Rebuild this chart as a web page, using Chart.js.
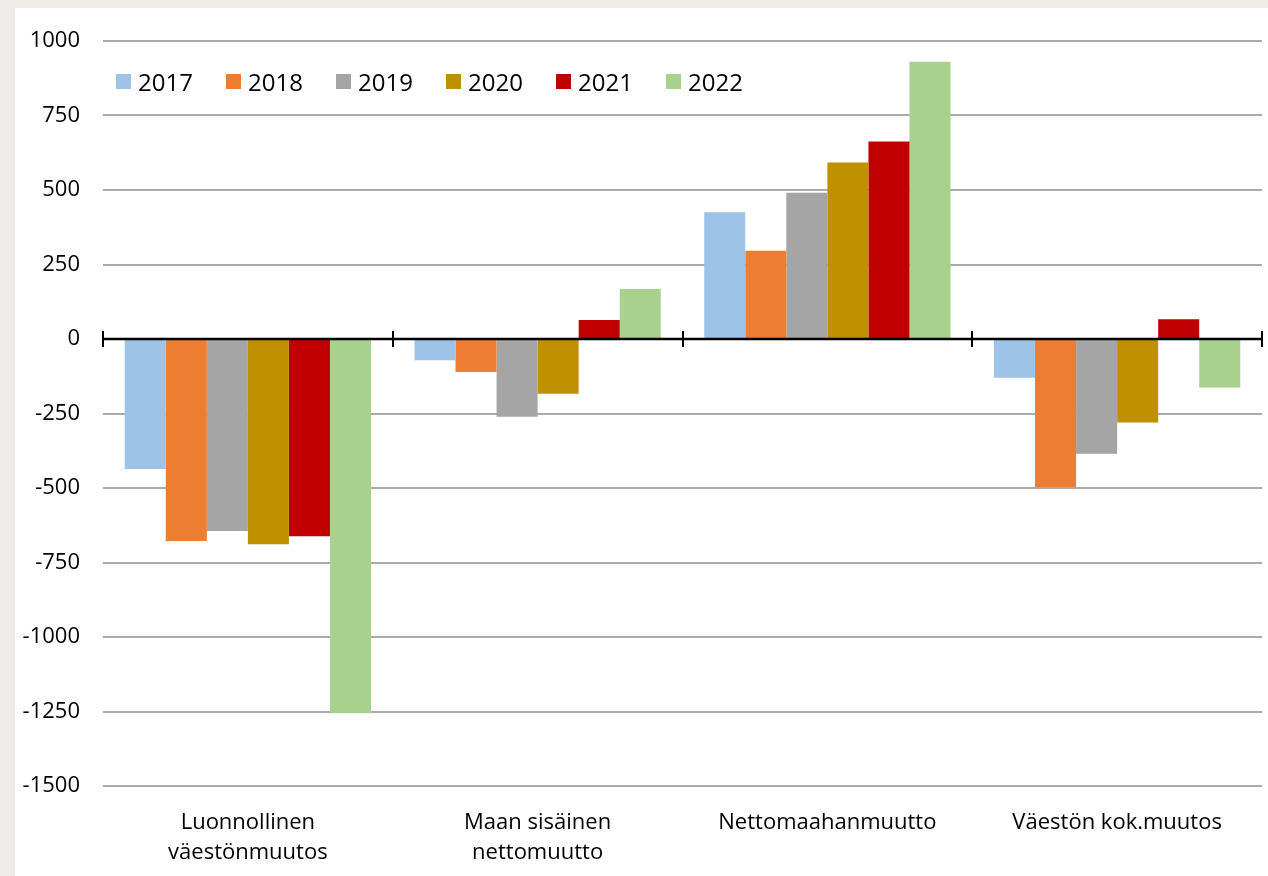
<!DOCTYPE html>
<html>
<head>
<meta charset="utf-8">
<script src="https://cdn.jsdelivr.net/npm/chart.js@4"></script>
<style>
  html, body { margin: 0; padding: 0; background: #efebe7; width: 1268px; height: 876px; overflow: hidden; }
  #paper { position: absolute; left: 15px; top: 8px; width: 1253px; height: 868px; background: #fff; }
  #wrap { position: absolute; left: 0; top: 0; width: 1268px; height: 876px; }
  #legend { position: absolute; left: 116px; top: 65px; display: flex; font-family: "Open Sans", sans-serif; font-size: 24px; color: #000; }
  #legend .item { width: 110px; display: flex; align-items: center; }
  #legend .box { width: 15px; height: 15px; margin-right: 7px; }
</style>
</head>
<body>
<div id="paper"></div>
<div id="wrap"><canvas id="c" width="1268" height="876"></canvas></div>
<div id="legend"></div>
<script>
const categories = [["Luonnollinen", "väestönmuutos"], ["Maan sisäinen", "nettomuutto"], "Nettomaahanmuutto", "Väestön kok.muutos"];
const years = ["2017", "2018", "2019", "2020", "2021", "2022"];
const colors = ["#9dc3e6", "#ed7d31", "#a5a5a5", "#bf9000", "#c00000", "#a9d18e"];
const v2017 = [-436, -71, 425, -130];
const v2018 = [-678, -111, 296, -497];
const v2019 = [-644, -261, 491, -385];
const v2020 = [-689, -184, 592, -280];
const v2021 = [-662, 64, 663, 66];
const v2022 = [-1256, 168, 930, -163];
const series = [v2017, v2018, v2019, v2020, v2021, v2022];
const yTicks = [1000, 750, 500, 250, 0, -250, -500, -750, -1000, -1250, -1500];

const zeroLine = {
  id: 'zeroLine',
  afterDatasetsDraw(chart) {
    const {ctx, chartArea, scales} = chart;
    const y0 = scales.y.getPixelForValue(0);
    ctx.save();
    ctx.strokeStyle = '#000';
    ctx.lineWidth = 2.5;
    ctx.beginPath();
    ctx.moveTo(chartArea.left, y0);
    ctx.lineTo(chartArea.right, y0);
    ctx.stroke();
    ctx.lineWidth = 2;
    for (let i = 0; i <= categories.length; i++) {
      const x = Math.round(scales.x.getPixelForValue(i - 0.5));
      ctx.beginPath();
      ctx.moveTo(x, y0 - 8);
      ctx.lineTo(x, y0 + 8);
      ctx.stroke();
    }
    ctx.restore();
  }
};

const chart = new Chart(document.getElementById('c'), {
  type: 'bar',
  data: {
    labels: categories,
    datasets: years.map((y, i) => ({
      label: y,
      data: series[i],
      backgroundColor: colors[i],
      borderWidth: 0,
      categoryPercentage: 0.85,
      barPercentage: 1.0
    }))
  },
  options: {
    responsive: false,
    animation: false,
    devicePixelRatio: 1,
    layout: { padding: { left: 0, right: 6, top: 41, bottom: 0 } },
    plugins: { legend: { display: false }, tooltip: { enabled: false } },
    scales: {
      x: {
        grid: { display: false, drawTicks: false },
        border: { display: false },
        ticks: { color: '#000', font: { family: 'Open Sans', size: 22, lineHeight: 1.4 }, padding: 21, maxRotation: 0, autoSkip: false },
        afterFit(scale) { scale.height = 90; }
      },
      y: {
        min: -1500, max: 1000,
        afterBuildTicks(scale) { scale.ticks = yTicks.map(v => ({ value: v })); },
        grid: { color: '#aaaaaa', lineWidth: 2, drawTicks: false },
        border: { display: false },
        ticks: { color: '#000', font: { family: 'Open Sans', size: 22 }, padding: 23, callback: v => String(v) },
        afterFit(scale) { scale.width = 103; }
      }
    }
  },
  plugins: [zeroLine]
});

const leg = document.getElementById('legend');
chart.data.datasets.forEach(ds => {
  const it = document.createElement('div'); it.className = 'item';
  const b = document.createElement('span'); b.className = 'box'; b.style.background = ds.backgroundColor;
  const t = document.createElement('span'); t.textContent = ds.label;
  it.appendChild(b); it.appendChild(t); leg.appendChild(it);
});
</script>
</body>
</html>
